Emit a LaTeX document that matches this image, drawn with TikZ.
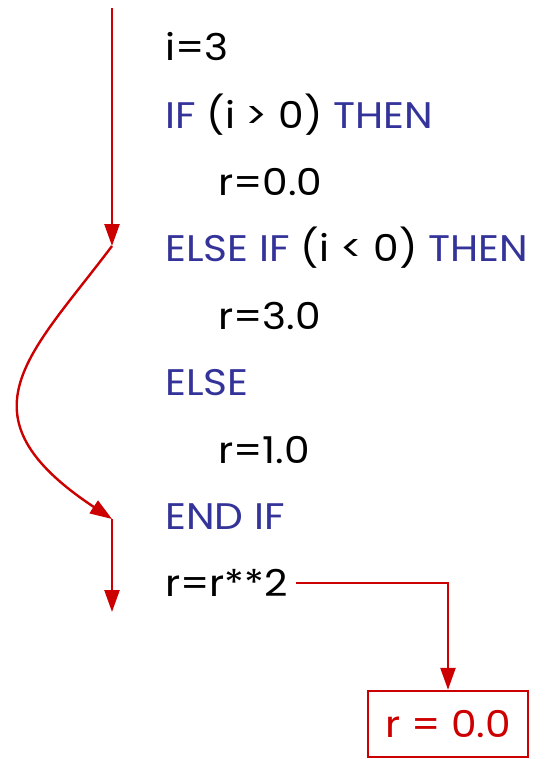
\documentclass[tikz,border=0pt]{standalone}
\usepackage{fontspec}
\setmainfont{Poppins}[FakeStretch=1.1]
\usetikzlibrary{arrows.meta}
\definecolor{flowred}{HTML}{CC0000}
\definecolor{kwblue}{HTML}{333399}
\tikzset{
  codeline/.style={anchor=west, inner sep=0pt, font=\fontsize{37}{37}\selectfont, text=black},
  flow/.style={draw=flowred, line width=2.4pt, -{Triangle[length=22pt,width=15pt]}},
  resultbox/.style={draw=flowred, line width=2.4pt, text=flowred, minimum width=160pt, minimum height=66pt, inner sep=0pt, font=\fontsize{37}{37}\selectfont}
}
\newcommand{\kw}[1]{\textcolor{kwblue}{#1}}
\begin{document}
\begin{tikzpicture}[x=1pt,y=-1pt]
\useasboundingbox (0,0) rectangle (549,759);
\node[codeline] (l1) at (165,47) {i=3};
\node[codeline] (l2) at (165,115) {\kw{IF} (i > 0) \kw{THEN}};
\node[codeline] (l3) at (218,182) {r=0.0};
\node[codeline] (l4) at (165,248) {\kw{ELSE IF} (i < 0) \kw{THEN}};
\node[codeline] (l5) at (218,316) {r=3.0};
\node[codeline] (l6) at (165,383) {\kw{ELSE}};
\node[codeline] (l7) at (218,450) {r=1.0};
\node[codeline] (l8) at (165,517) {\kw{END IF}};
\node[codeline] (l9) at (165,583) {r=r**2};
\node[resultbox] (res) at (448,724) {r = 0.0};
\coordinate (top) at (112,8);
\coordinate (p1) at (112,246);
\coordinate (p2) at (112,519);
\coordinate (p3) at (112,612);
\coordinate (turn) at (448,583);
\draw[flow] (top) -- (p1);
\draw[flow] (p1) .. controls (30,355) and (-45,415) .. (p2);
\draw[flow] (p2) -- (p3);
\draw[flow] ([xshift=8pt]l9.east) -- (turn) -- (res.north);
\end{tikzpicture}
\end{document}
